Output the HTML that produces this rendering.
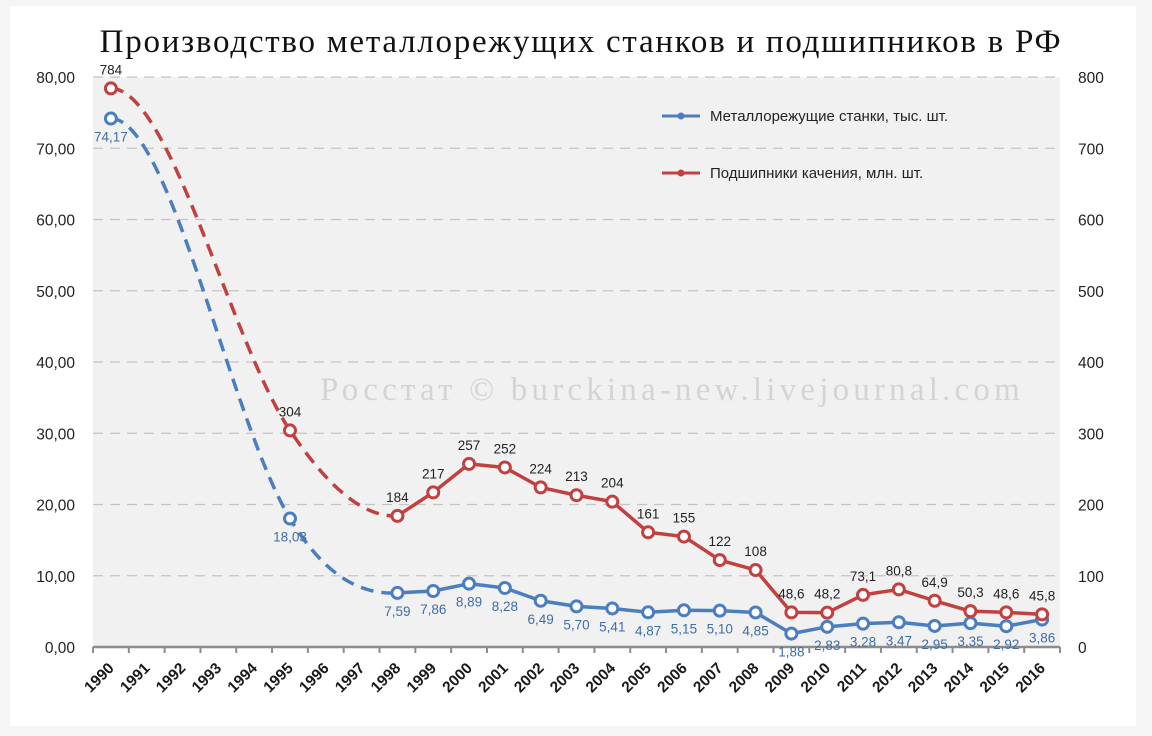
<!DOCTYPE html>
<html><head><meta charset="utf-8"><style>
html,body{margin:0;padding:0;background:#f5f5f5;width:1152px;height:736px;overflow:hidden}
svg{display:block}
</style></head><body>
<svg id="c" width="1152" height="736" xmlns="http://www.w3.org/2000/svg">
<rect x="10" y="6" width="1126" height="720" fill="#ffffff"/>
<rect x="93" y="77" width="967" height="570" fill="#f1f1f1"/>
<text x="581" y="52" text-anchor="middle" font-family="'Liberation Serif','Noto Serif CJK SC',serif" font-size="33" letter-spacing="1.75" fill="#111">Производство металлорежущих станков и подшипников в РФ</text>
<text x="672" y="400" text-anchor="middle" font-family="'Liberation Serif',serif" font-size="33" letter-spacing="4.2" fill="#d4d4d4">Росстат © burckina-new.livejournal.com</text>
<g id="grid"></g>
<g id="axes"></g>
<g id="series"></g>
<g>
<line x1="662" y1="116" x2="700" y2="116" stroke="#4a7ebf" stroke-width="3"/>
<circle cx="681" cy="116" r="3.5" fill="#4a7ebf"/>
<text x="710" y="121" font-family="'Liberation Sans',sans-serif" font-size="15" fill="#222">Металлорежущие станки, тыс. шт.</text>
<line x1="662" y1="173" x2="700" y2="173" stroke="#c0413f" stroke-width="3"/>
<circle cx="681" cy="173" r="3.5" fill="#c0413f"/>
<text x="710" y="178" font-family="'Liberation Sans',sans-serif" font-size="15" fill="#222">Подшипники качения, млн. шт.</text>
</g>
</svg>
<script>
const years=[1990,1991,1992,1993,1994,1995,1996,1997,1998,1999,2000,2001,2002,2003,2004,2005,2006,2007,2008,2009,2010,2011,2012,2013,2014,2015,2016];
const machines=[74.17,null,null,null,null,18.03,null,null,7.59,7.86,8.89,8.28,6.49,5.70,5.41,4.87,5.15,5.10,4.85,1.88,2.83,3.28,3.47,2.95,3.35,2.92,3.86];
const machineLabels=["74,17",null,null,null,null,"18,03",null,null,"7,59","7,86","8,89","8,28","6,49","5,70","5,41","4,87","5,15","5,10","4,85","1,88","2,83","3,28","3,47","2,95","3,35","2,92","3,86"];
const bearings=[784,null,null,null,null,304,null,null,184,217,257,252,224,213,204,161,155,122,108,48.6,48.2,73.1,80.8,64.9,50.3,48.6,45.8];
const bearingLabels=["784",null,null,null,null,"304",null,null,"184","217","257","252","224","213","204","161","155","122","108","48,6","48,2","73,1","80,8","64,9","50,3","48,6","45,8"];
const leftTicks=["0,00","10,00","20,00","30,00","40,00","50,00","60,00","70,00","80,00"];
const rightTicks=["0","100","200","300","400","500","600","700","800"];
const NS="http://www.w3.org/2000/svg";
const X0=93,X1=1060,Y0=647,Y1=77;
const step=(X1-X0)/years.length;
const xs=i=>X0+step*(i+0.5);
const yL=v=>Y0-(v/80)*(Y0-Y1);
const yR=v=>Y0-(v/800)*(Y0-Y1);
function mk(tag,attrs,parent,text){const e=document.createElementNS(NS,tag);for(const k in attrs)e.setAttribute(k,attrs[k]);if(text!=null)e.textContent=text;parent.appendChild(e);return e;}
const grid=document.getElementById('grid'),axes=document.getElementById('axes'),ser=document.getElementById('series');
leftTicks.forEach((t,i)=>{const y=yL(i*10);
 if(i>0){const l=mk('line',{x1:X0,x2:X1,y1:y,y2:y,stroke:'#c4c4c4','stroke-width':1.3,'stroke-dasharray':'10,7'},grid);
 
 }
 const a=mk('text',{x:75,y:y+6,'text-anchor':'end','font-family':"'Liberation Sans',sans-serif",'font-size':15.5,fill:'#222'},axes,t);
 
 
 const b=mk('text',{x:1078,y:y+6,'font-family':"'Liberation Sans',sans-serif",'font-size':15.5,fill:'#222'},axes,rightTicks[i]);
 
 
});
const ax=mk('line',{x1:X0,x2:X1,y1:Y0,y2:Y0,stroke:'#8c8c8c','stroke-width':2.5},axes);


for(let i=0;i<=years.length;i++){const x=X0+step*i;mk('line',{x1:x,x2:x,y1:Y0,y2:Y0+6,stroke:'#8c8c8c','stroke-width':2},axes);}
years.forEach((yr,i)=>{const x=xs(i)+4,y=Y0+22;
 const t=mk('text',{x:x,y:y,'text-anchor':'end','font-family':"'Liberation Sans',sans-serif",'font-size':15.5,'font-weight':'bold',fill:'#1a1a1a',transform:`rotate(-45 ${x} ${y})`},axes,yr);
 
 
});
function dashedCurve(a,b,c){
 const dx1=b[0]-a[0],dx2=c[0]-b[0],T=[c[0]-a[0],c[1]-a[1]],s=dx1+dx2;
 const c1=[a[0]+dx1*0.33,a[1]];
 const c2=[b[0]-T[0]*dx1/(3*s),b[1]-T[1]*dx1/(3*s)];
 const c3=[b[0]+T[0]*dx2/(3*s),b[1]+T[1]*dx2/(3*s)];
 const c4=[c[0]-dx2*0.33,c[1]+2];
 return `M${a[0]},${a[1]} C${c1} ${c2} ${b[0]},${b[1]} C${c3} ${c4} ${c[0]},${c[1]}`;
}
function drawSeries(vals,labels,yf,color,name,above){
 const pts=[];vals.forEach((v,i)=>{if(v!=null)pts.push([xs(i),yf(v),i]);});
 const dp=pts.filter(p=>p[2]<=8);
 const dl=mk('path',{d:dashedCurve(dp[0],dp[1],dp[2]),fill:'none',stroke:color,'stroke-width':3.5,'stroke-dasharray':'13,8'},ser);
 
 
 const solid=pts.filter(p=>p[2]>=8);
 const sl=mk('path',{d:'M'+solid.map(p=>p[0]+','+p[1]).join(' L'),fill:'none',stroke:color,'stroke-width':3.5,'stroke-linejoin':'round'},ser);
 
 
 pts.forEach(p=>{
  const c=mk('circle',{cx:p[0],cy:p[1],r:5.5,fill:'#fff',stroke:color,'stroke-width':3},ser);
  
  
  const lbl=labels[p[2]];
  const t=mk('text',{x:p[0],y:above?p[1]-14:p[1]+23,'text-anchor':'middle','font-family':"'Liberation Sans',sans-serif",'font-size':13.5,fill:above?'#222':'#3e6ea8'},ser,lbl);
  
  
 });
}
drawSeries(machines,machineLabels,yL,'#4a7ebf','machines',false);
drawSeries(bearings,bearingLabels,yR,'#c0413f','bearings',true);
</script>
</body></html>
